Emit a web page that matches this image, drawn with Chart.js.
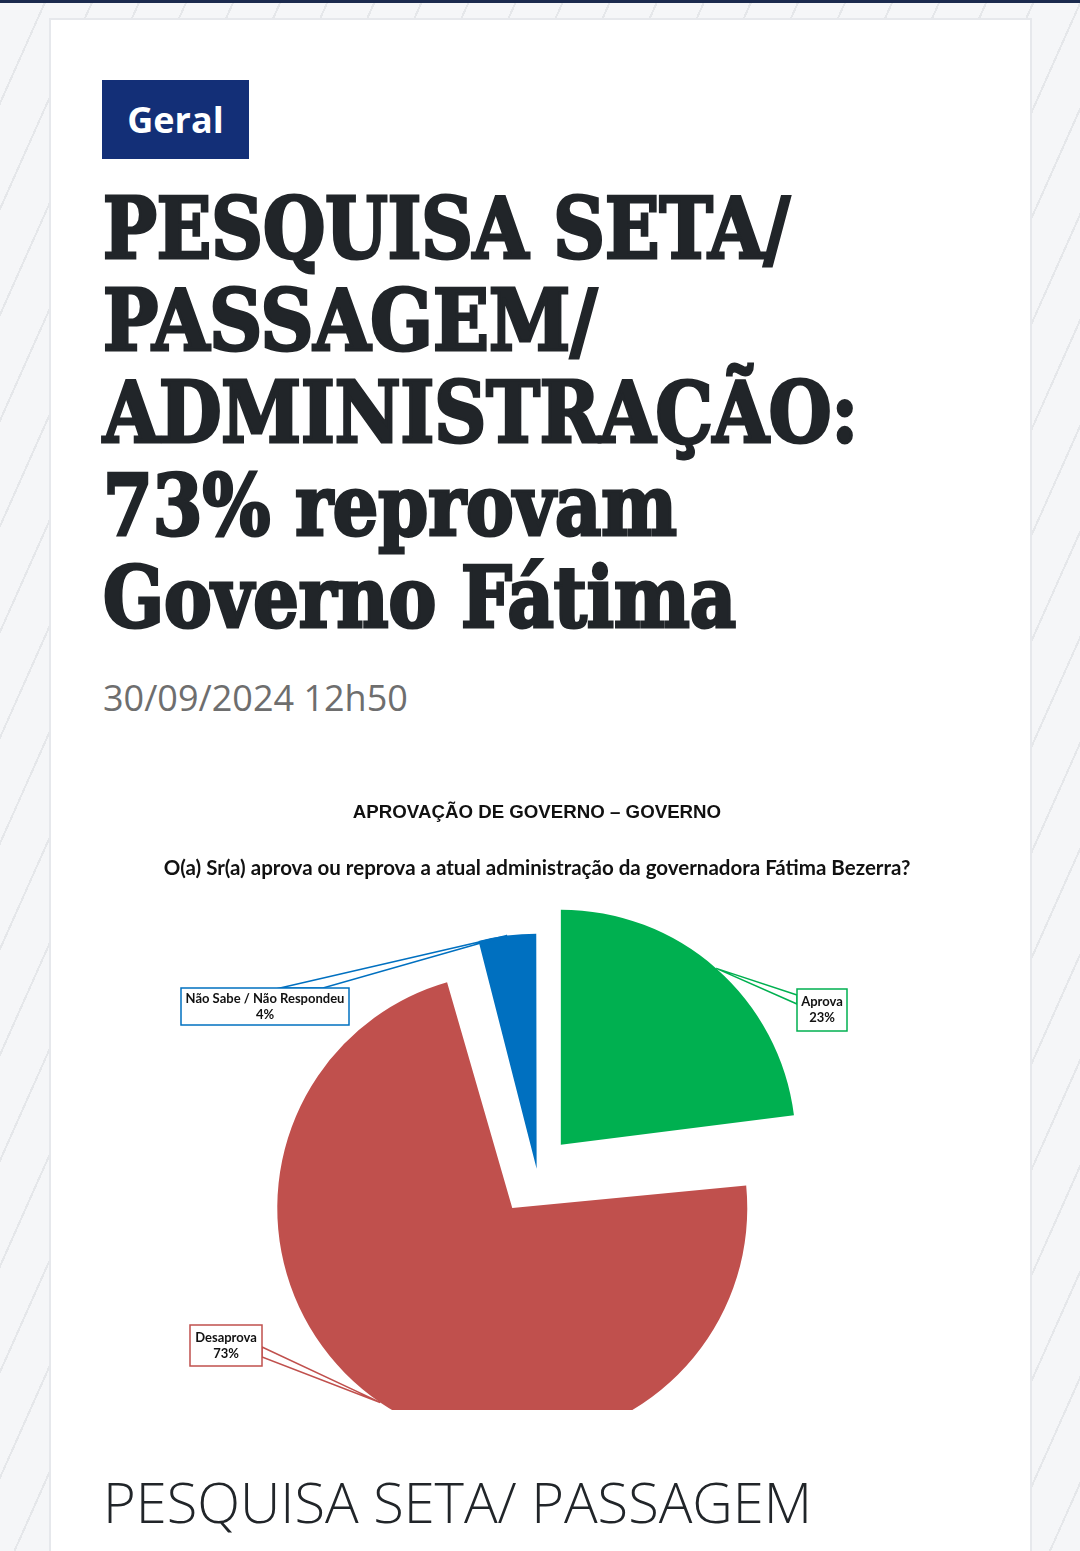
<!DOCTYPE html>
<html><head><meta charset="utf-8">
<script src="https://cdn.jsdelivr.net/npm/chart.js@4.4.1/dist/chart.umd.min.js"></script>
<style>
html,body{margin:0;padding:0;}
body{width:1080px;height:1551px;overflow:hidden;position:relative;
  background-color:#f5f6f8;
  background-image:repeating-linear-gradient(114deg, transparent 0 41px, #e5e7ea 41px 43px);}
#topbar{position:absolute;left:0;top:0;width:1080px;height:3px;background:#1b2a4e;}
#card{position:absolute;left:49px;top:18px;width:979px;height:1600px;background:#fff;border:2px solid #e6e8ec;}
#badge{position:absolute;left:102px;top:80px;width:147px;height:79px;background:#132f77;color:#fff;
  font-family:"Open Sans",sans-serif;font-weight:700;font-size:36px;line-height:79px;text-align:center;}
.tl{position:absolute;left:103px;white-space:nowrap;font-family:"DejaVu Serif Condensed","DejaVu Serif",serif;font-weight:700;
  font-size:84px;line-height:84px;color:#212529;-webkit-text-stroke:3px #212529;transform-origin:0 0;}
#date{position:absolute;left:103px;top:680px;font-family:"Open Sans",sans-serif;font-size:36px;line-height:36px;color:#6e6e6e;white-space:nowrap;}
#bottom{position:absolute;left:103px;top:1473px;font-family:"Open Sans",sans-serif;font-weight:300;font-size:56px;line-height:56px;color:#212529;white-space:nowrap;}
#chartwrap{position:absolute;left:137px;top:780px;width:800px;height:630px;overflow:hidden;}
</style></head>
<body>
<div id="topbar"></div>
<div id="card"></div>
<div id="badge">Geral</div>
<div class="tl" style="top:187px" data-w="687">PESQUISA SETA/</div>
<div class="tl" style="top:279px" data-w="494">PASSAGEM/</div>
<div class="tl" style="top:371px" data-w="755">ADMINISTRAÇÃO:</div>
<div class="tl" style="top:464px" data-w="574">73% reprovam</div>
<div class="tl" style="top:556px" data-w="633">Governo Fátima</div>
<div id="date">30/09/2024 12h50</div>
<div id="chartwrap"><canvas id="c" width="800" height="683"></canvas></div>
<div id="bottom">PESQUISA SETA/ PASSAGEM</div>
<script>
// fit headline lines
document.querySelectorAll('.tl').forEach(function(el){
  var w = el.getBoundingClientRect().width;
  var t = parseFloat(el.getAttribute('data-w'));
  el.style.transform = 'scaleX(' + (t / w) + ')';
});

// ---- data ----
const chartTitle = 'APROVAÇÃO DE GOVERNO – GOVERNO';
const chartQuestion = 'O(a) Sr(a) aprova ou reprova a atual administração da governadora Fátima Bezerra?';
const categories = ['Aprova', 'Desaprova', 'Não Sabe / Não Respondeu'];
const values = [23, 73, 4];
const valueLabels = ['23%', '73%', '4%'];
const sliceColors = ['#00b050', '#c0504d', '#0070c0'];
const sliceOffsets = [144, 176, 12];

// callout boxes in page coords [left, top, right, bottom] and wedge base points
const CANVAS_LEFT = 137, CANVAS_TOP = 780;
const calloutBoxes = [
  [797, 989, 847, 1031],
  [190, 1325, 262, 1366],
  [181, 988, 349, 1025]
];
const calloutBases = [
  [[797, 995], [797, 1004]],
  [[262, 1347], [262, 1357]],
  [[280, 988], [323, 988]]
];
const PIE_RADIUS = 235;

const fixRadius = {
  id: 'fixRadius',
  beforeDatasetsDraw(chart) {
    const meta = chart.getDatasetMeta(0);
    meta.data.forEach(function(arc, i) {
      const off = sliceOffsets[i] / 4;
      const circ = arc.endAngle - arc.startAngle;
      const fix = 1 - Math.sin(Math.min(Math.PI, circ));
      arc.outerRadius = PIE_RADIUS - off * fix;
    });
  }
};

const callouts = {
  id: 'callouts',
  afterDatasetsDraw(chart) {
    const ctx = chart.ctx;
    const meta = chart.getDatasetMeta(0);
    ctx.save();
    meta.data.forEach(function(arc, i) {
      const mid = (arc.startAngle + arc.endAngle) / 2;
      const d = sliceOffsets[i] / 4 + PIE_RADIUS;
      const tx = arc.x + Math.cos(mid) * d;
      const ty = arc.y + Math.sin(mid) * d;
      const b = calloutBoxes[i].map(function(v, k){ return v - (k % 2 === 0 ? CANVAS_LEFT : CANVAS_TOP); });
      const p = calloutBases[i].map(function(pt){ return [pt[0] - CANVAS_LEFT, pt[1] - CANVAS_TOP]; });
      ctx.strokeStyle = sliceColors[i];
      ctx.lineWidth = 1.5;
      ctx.fillStyle = '#ffffff';
      ctx.beginPath();
      ctx.moveTo(p[0][0], p[0][1]);
      ctx.lineTo(tx, ty);
      ctx.lineTo(p[1][0], p[1][1]);
      ctx.closePath();
      ctx.fill();
      ctx.stroke();
      ctx.fillRect(b[0], b[1], b[2] - b[0], b[3] - b[1]);
      ctx.strokeRect(b[0], b[1], b[2] - b[0], b[3] - b[1]);
      ctx.fillStyle = '#111111';
      ctx.font = 'bold 13px Lato, "Open Sans", sans-serif';
      ctx.textAlign = 'center';
      ctx.textBaseline = 'middle';
      const cx = (b[0] + b[2]) / 2, cy = (b[1] + b[3]) / 2;
      ctx.fillText(categories[i], cx, cy - 8);
      ctx.fillText(valueLabels[i], cx, cy + 8);
    });
    ctx.restore();
  }
};

new Chart(document.getElementById('c'), {
  type: 'pie',
  data: {
    labels: categories,
    datasets: [{
      data: values,
      backgroundColor: sliceColors,
      borderWidth: 0,
      offset: sliceOffsets,
      radius: PIE_RADIUS
    }]
  },
  options: {
    responsive: false,
    animation: false,
    layout: { padding: 0 },
    plugins: {
      legend: { display: false },
      tooltip: { enabled: false },
      title: {
        display: true, text: chartTitle, color: '#111111',
        font: { family: '"Liberation Sans", Arial, sans-serif', size: 18.7, weight: 'bold' },
        padding: { top: 22, bottom: 0 }
      },
      subtitle: {
        display: true, text: chartQuestion, color: '#111111',
        font: { family: 'Lato, "Open Sans", sans-serif', size: 20.5, weight: 'bold' },
        padding: { top: 31.3, bottom: 0 }
      }
    }
  },
  plugins: [fixRadius, callouts]
});
</script>
</body></html>
